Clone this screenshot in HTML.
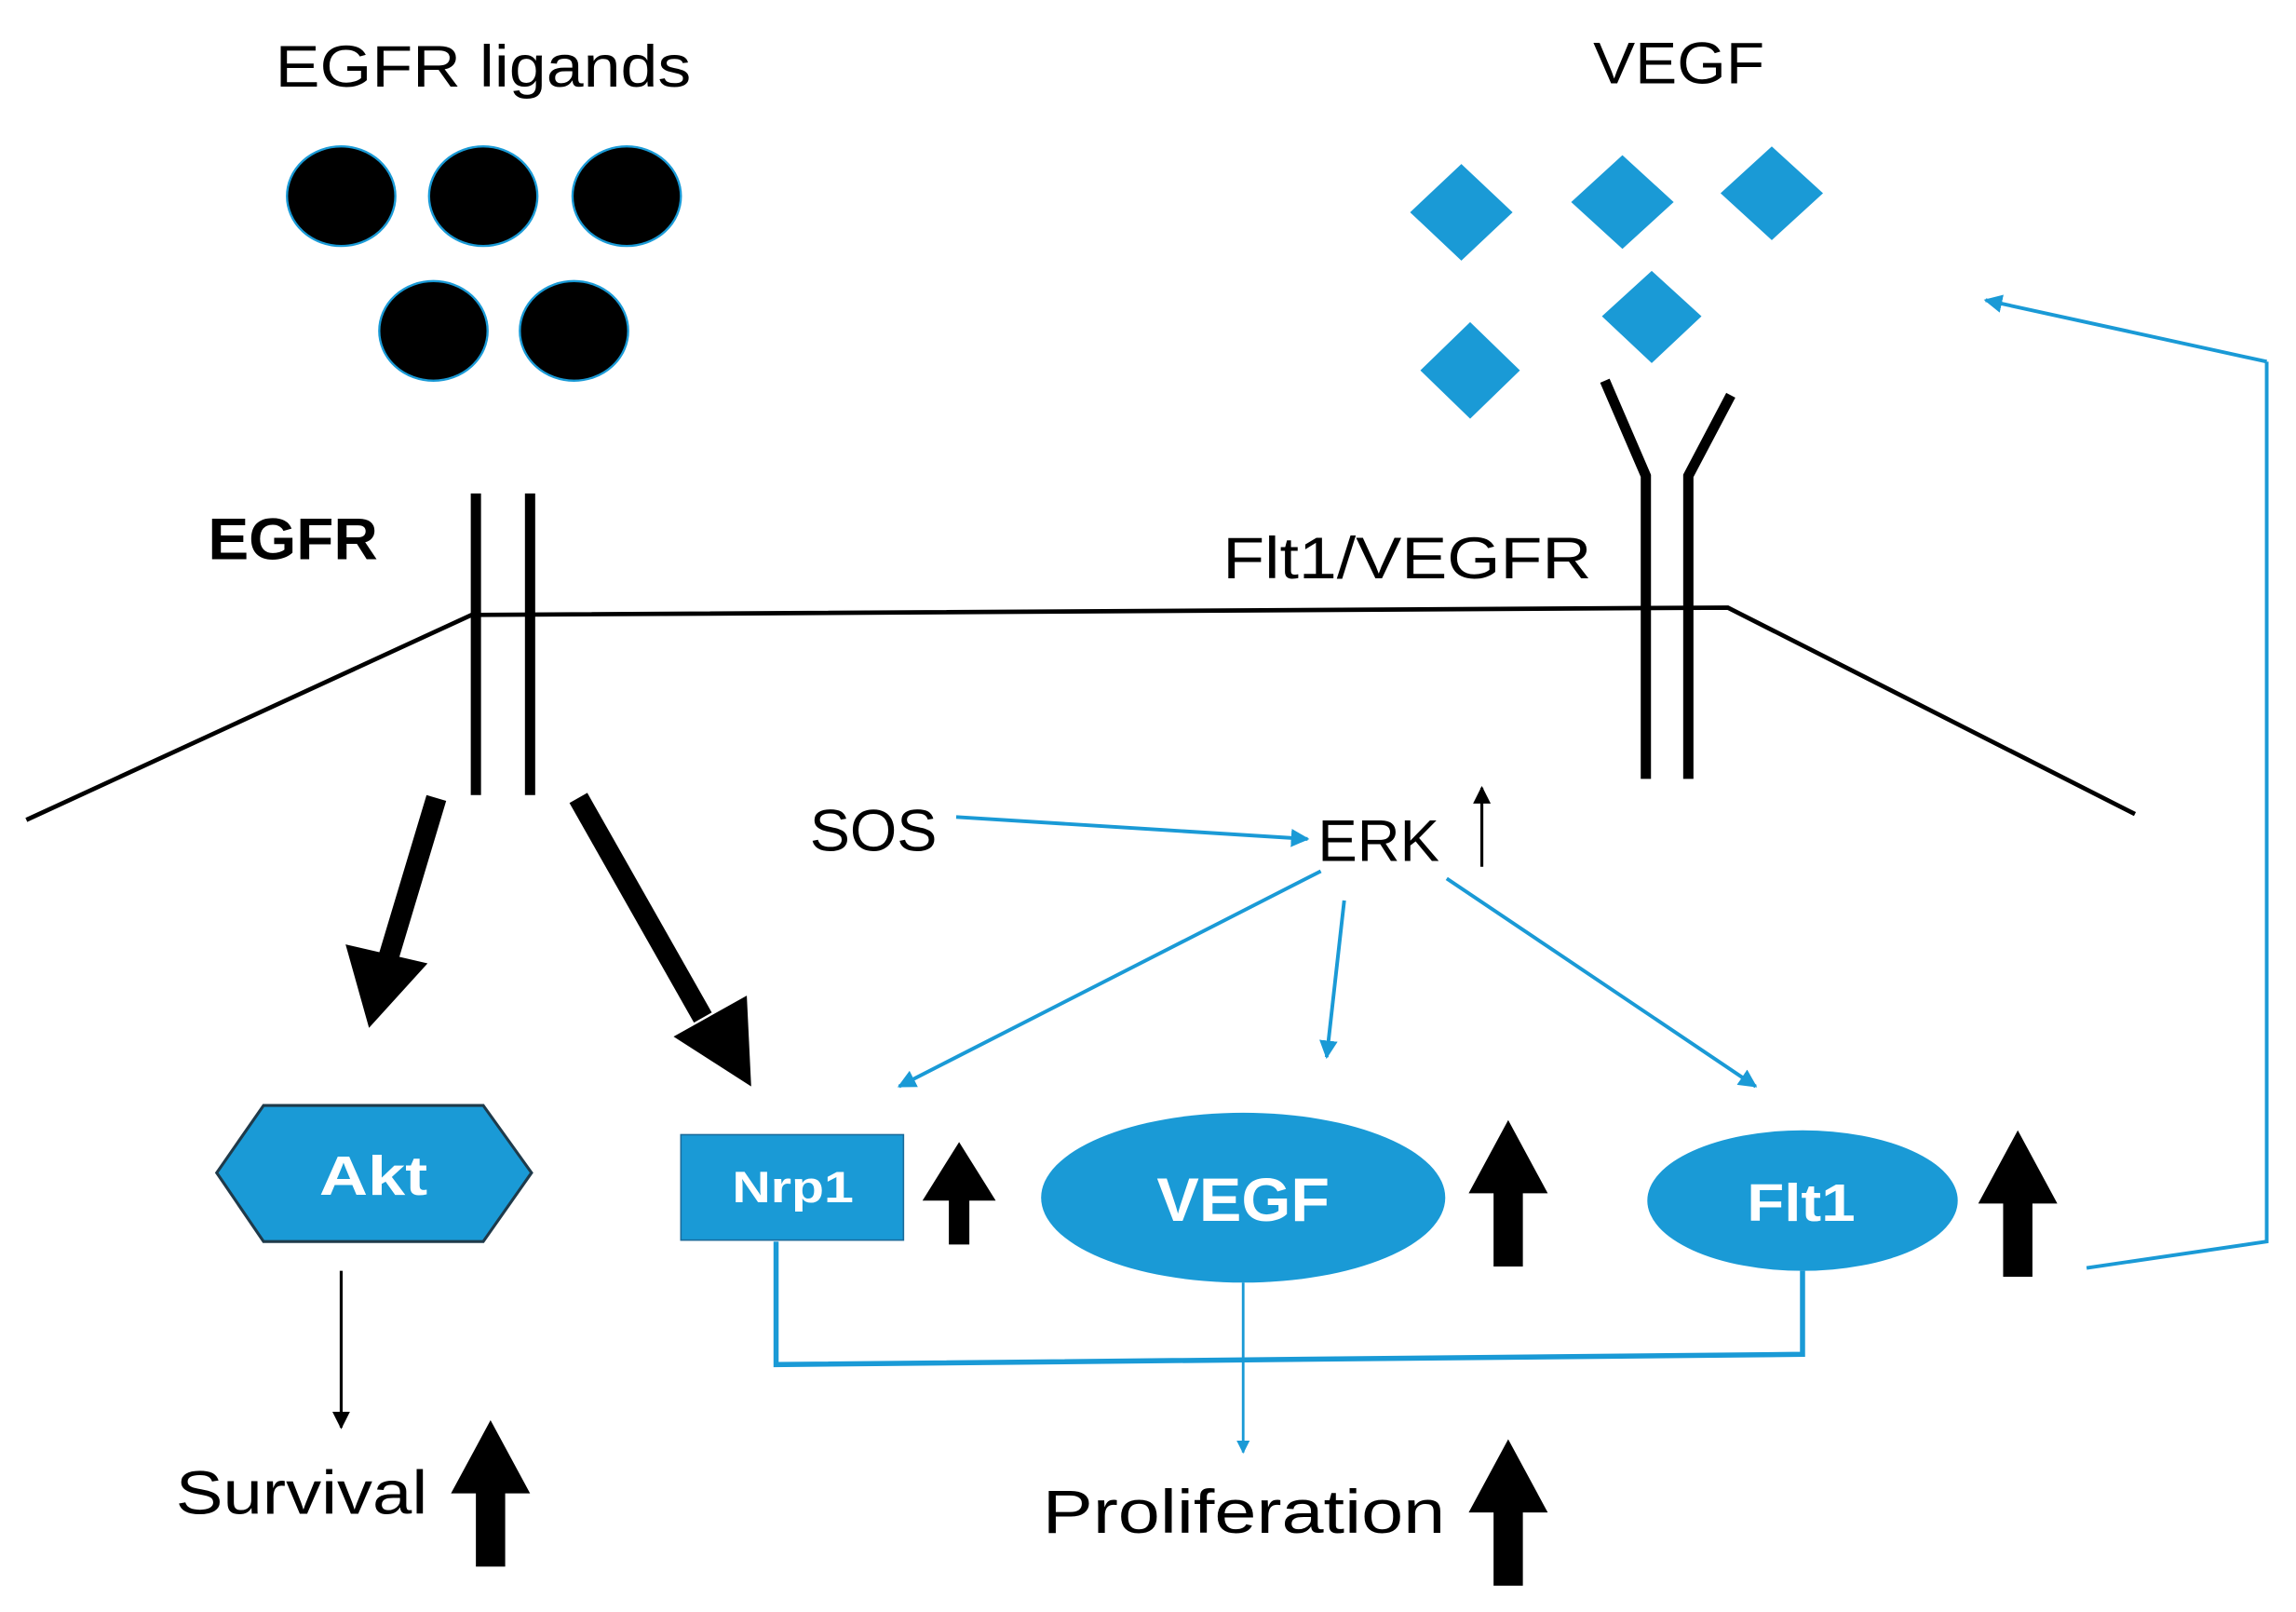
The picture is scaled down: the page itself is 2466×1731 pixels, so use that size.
<!DOCTYPE html>
<html><head><meta charset="utf-8"><style>
html,body{margin:0;padding:0;background:#fff;}
svg{display:block;}
text{font-family:"Liberation Sans",sans-serif;}
</style></head><body>
<svg width="2466" height="1731" viewBox="0 0 1568 1101" preserveAspectRatio="none" xmlns="http://www.w3.org/2000/svg">
<defs>
<marker id="bh" viewBox="0 0 10 10" refX="9" refY="5" markerWidth="5" markerHeight="5" orient="auto" markerUnits="strokeWidth"><path d="M0,0 L10,5 L0,10 z" fill="#1a9ad6"/></marker>
<marker id="kh" viewBox="0 0 10 10" refX="9" refY="5" markerWidth="6" markerHeight="6" orient="auto" markerUnits="strokeWidth"><path d="M0,0 L10,5 L0,10 z" fill="#000"/></marker>
</defs>
<rect width="1568" height="1101" fill="#fff"/>
<text x="188" y="59" font-size="40" textLength="284" lengthAdjust="spacingAndGlyphs">EGFR ligands</text>
<g fill="#000" stroke="#1a9ad6" stroke-width="1.5">
<ellipse cx="233" cy="134" rx="37" ry="34"/><ellipse cx="330" cy="134" rx="37" ry="34"/><ellipse cx="428" cy="134" rx="37" ry="34"/>
<ellipse cx="296" cy="226" rx="37" ry="34"/><ellipse cx="392" cy="226" rx="37" ry="34"/>
</g>
<text x="1088" y="57" font-size="40" textLength="117" lengthAdjust="spacingAndGlyphs">VEGF</text>
<g fill="#1a9ad6">
<path d="M998,112 L1033,145 L998,178 L963,145z"/>
<path d="M1108,106 L1143,138 L1108,170 L1073,138z"/>
<path d="M1210,100 L1245,132 L1210,164 L1175,132z"/>
<path d="M1128,185 L1162,216 L1128,248 L1094,216z"/>
<path d="M1004,220 L1038,253 L1004,286 L970,253z"/>
</g>
<text x="142" y="382" font-size="40" font-weight="bold" textLength="116" lengthAdjust="spacingAndGlyphs">EGFR</text>
<text x="835" y="395" font-size="40" textLength="252" lengthAdjust="spacingAndGlyphs">Flt1/VEGFR</text>
<polyline points="18,560 322,420 1180,415 1458,556" fill="none" stroke="#000" stroke-width="3"/>
<g stroke="#000" stroke-width="7" fill="none">
<line x1="325" y1="337" x2="325" y2="543"/><line x1="362" y1="337" x2="362" y2="543"/>
<polyline points="1096,260 1124,325 1124,532"/><polyline points="1182,270 1153,325 1153,532"/>
</g>
<line x1="298" y1="545" x2="265" y2="655" stroke="#000" stroke-width="14"/>
<path d="M236,645 L252,702 L292,658z" fill="#000"/>
<line x1="395" y1="545" x2="480" y2="695" stroke="#000" stroke-width="14"/>
<path d="M460,708 L513,742 L510,680z" fill="#000"/>
<polygon points="148,801 180,755 330,755 363,801 330,848 180,848" fill="#1a9ad6" stroke="#1f3a4a" stroke-width="2"/>
<text x="218" y="816" font-size="38" font-weight="bold" fill="#fff" textLength="74" lengthAdjust="spacingAndGlyphs">Akt</text>
<rect x="465" y="775" width="152" height="72" fill="#1a9ad6" stroke="#1a6a9a" stroke-width="1"/>
<text x="500" y="821" font-size="30" font-weight="bold" fill="#fff" textLength="83" lengthAdjust="spacingAndGlyphs">Nrp1</text>
<ellipse cx="849" cy="818" rx="138" ry="58" fill="#1a9ad6"/>
<text x="790" y="834" font-size="42" font-weight="bold" fill="#fff" textLength="118" lengthAdjust="spacingAndGlyphs">VEGF</text>
<ellipse cx="1231" cy="820" rx="106" ry="48" fill="#1a9ad6"/>
<text x="1193" y="834" font-size="36" font-weight="bold" fill="#fff" textLength="74" lengthAdjust="spacingAndGlyphs">Flt1</text>
<g fill="#000">
<path d="M648,850 L662,850 L662,820 L680,820 L655,780 L630,820 L648,820z"/>
<path d="M1020,865 L1040,865 L1040,815 L1057,815 L1030,765 L1003,815 L1020,815z"/>
<path d="M1368,872 L1388,872 L1388,822 L1405,822 L1378,772 L1351,822 L1368,822z"/>
<path d="M325,1070 L345,1070 L345,1020 L362,1020 L335,970 L308,1020 L325,1020z"/>
<path d="M1020,1083 L1040,1083 L1040,1033 L1057,1033 L1030,983 L1003,1033 L1020,1033z"/>
</g>
<text x="553" y="581" font-size="40" textLength="87" lengthAdjust="spacingAndGlyphs">SOS</text>
<text x="900" y="588" font-size="40" textLength="83" lengthAdjust="spacingAndGlyphs">ERK</text>
<line x1="1012" y1="592" x2="1012" y2="538" stroke="#000" stroke-width="2" marker-end="url(#kh)"/>
<g stroke="#1a9ad6" stroke-width="2.5" fill="none">
<line x1="653" y1="558" x2="893" y2="573" marker-end="url(#bh)"/>
<line x1="902" y1="595" x2="614" y2="742" marker-end="url(#bh)"/>
<line x1="918" y1="615" x2="906" y2="722" marker-end="url(#bh)"/>
<line x1="988" y1="600" x2="1199" y2="742" marker-end="url(#bh)"/>
<line x1="849" y1="876" x2="849" y2="992" stroke-width="1.8" marker-end="url(#bh)"/>
<polyline points="1425,866 1548,848 1548,247" />
<line x1="1548" y1="247" x2="1356" y2="205" marker-end="url(#bh)"/>
</g>
<polyline points="530,848 530,932 1231,925 1231,868" fill="none" stroke="#1a9ad6" stroke-width="3.5"/>
<line x1="233" y1="868" x2="233" y2="975" stroke="#000" stroke-width="2" marker-end="url(#kh)"/>
<text x="120" y="1034" font-size="42" textLength="172" lengthAdjust="spacingAndGlyphs">Survival</text>
<text x="712" y="1047" font-size="42" textLength="275" lengthAdjust="spacingAndGlyphs">Proliferation</text>
</svg>
</body></html>
